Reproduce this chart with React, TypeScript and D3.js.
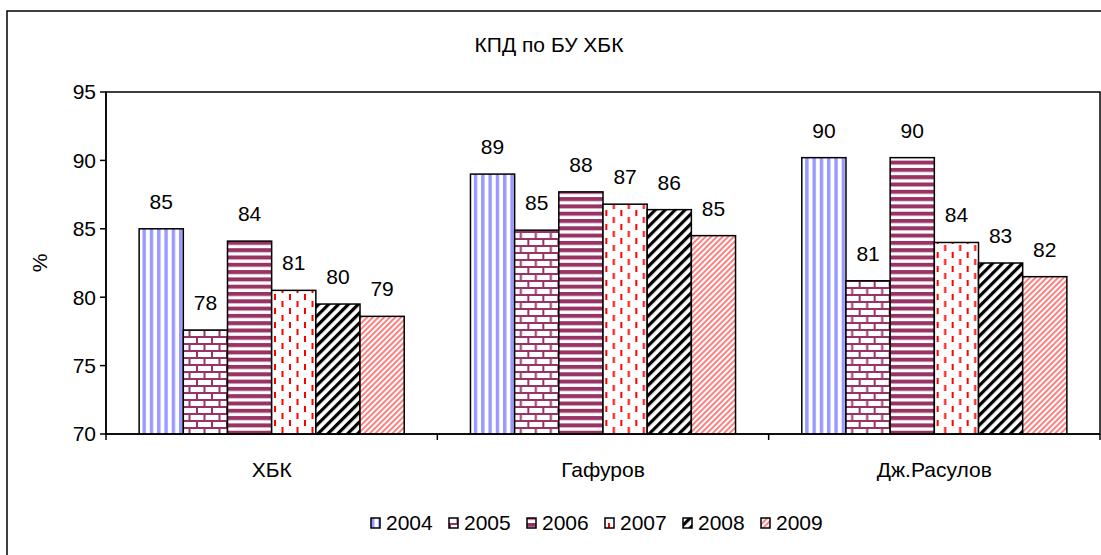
import React from 'react';
import * as d3 from 'd3';

// chart data
const categories = ['ХБК', 'Гафуров', 'Дж.Расулов'];
const years = ['2004', '2005', '2006', '2007', '2008', '2009'];
const v2004 = [85.0, 89.0, 90.2];
const v2005 = [77.6, 84.9, 81.2];
const v2006 = [84.1, 87.7, 90.2];
const v2007 = [80.5, 86.8, 84.0];
const v2008 = [79.5, 86.4, 82.5];
const v2009 = [78.6, 84.5, 81.5];
const yTicks = [70, 75, 80, 85, 90, 95];
const title = 'КПД по БУ ХБК';
const yLabel = '%';

const seriesValues = [v2004, v2005, v2006, v2007, v2008, v2009];

const W = 1101;
const H = 555;
const FONT = 'Arial, "Liberation Sans", sans-serif';
const FS = 21;
const plot = { left: 106, right: 1100, top: 92, bottom: 434 };

const Patterns = () => (
  <defs>
    {/* 2004: vertical blue stripes */}
    <pattern id="p2004" patternUnits="userSpaceOnUse" width="7.3" height="10">
      <rect width="7.3" height="10" fill="#fff" />
      <rect x="0" width="3.4" height="10" fill="#9999ff" />
    </pattern>
    {/* 2005: bricks */}
    <pattern id="p2005" patternUnits="userSpaceOnUse" width="15" height="14">
      <rect width="15" height="14" fill="#fff" />
      <rect x="0" y="0" width="15" height="2" fill="#993366" />
      <rect x="0" y="7" width="15" height="2" fill="#993366" />
      <rect x="0" y="0" width="2" height="7" fill="#993366" />
      <rect x="7.5" y="7" width="2" height="7" fill="#993366" />
    </pattern>
    {/* 2006: horizontal purple stripes */}
    <pattern id="p2006" patternUnits="userSpaceOnUse" width="10" height="7.3">
      <rect width="10" height="7.3" fill="#fff" />
      <rect y="0" width="10" height="4" fill="#993366" />
    </pattern>
    {/* 2007: red dashed vertical */}
    <pattern id="p2007" patternUnits="userSpaceOnUse" width="15" height="14">
      <rect width="15" height="14" fill="#fff" />
      <rect x="3" y="0" width="2" height="6" fill="#ff0000" />
      <rect x="10.5" y="7" width="2" height="6" fill="#ff0000" />
    </pattern>
    {/* 2008: wide black diagonal */}
    <pattern id="p2008" patternUnits="userSpaceOnUse" width="7" height="7" patternTransform="rotate(45)">
      <rect width="7" height="7" fill="#fff" />
      <rect x="0" width="3.2" height="7" fill="#000" />
    </pattern>
    {/* 2009: light red diagonal */}
    <pattern id="p2009" patternUnits="userSpaceOnUse" width="4" height="4" patternTransform="rotate(45)">
      <rect width="4" height="4" fill="#fff" />
      <rect x="0" width="2" height="4" fill="#ff8080" />
    </pattern>
  </defs>
);

export default function App() {
  const x0 = d3.scaleBand<string>().domain(categories).range([plot.left, plot.right]).paddingInner(0).paddingOuter(0);
  const x1 = d3.scaleBand<string>().domain(years).range([0, x0.bandwidth()]).paddingInner(0).paddingOuter(0.75);
  const y = d3.scaleLinear().domain([70, 95]).range([plot.bottom, plot.top]);

  const legendStep = 78;
  const legendX = 371;
  const legendY = 523;

  return (
    <svg width={W} height={H} style={{ position: 'absolute', left: 0, top: 0, display: 'block', background: '#fff' }}>
      <Patterns />
      {/* chart border */}
      <rect x={7} y={11} width={1120} height={580} fill="#fff" stroke="#000" strokeWidth={1.5} />

      <text x={549} y={52} textAnchor="middle" fontFamily={FONT} fontSize={FS}>{title}</text>

      {/* plot area */}
      <rect x={plot.left} y={plot.top} width={plot.right - plot.left} height={plot.bottom - plot.top}
        fill="#fff" stroke="#000" strokeWidth={1.5} />

      {/* bars */}
      {categories.map((c, ci) => (
        <g key={c} transform={`translate(${x0(c)},0)`}>
          {years.map((yr, si) => {
            const v = seriesValues[si][ci];
            const bx = x1(yr)!;
            return (
              <g key={yr}>
                <rect x={bx} y={y(v)} width={x1.bandwidth()} height={plot.bottom - y(v)}
                  fill={`url(#p${yr})`} stroke="#000" strokeWidth={1.5} />
                <text x={bx + x1.bandwidth() / 2} y={y(v) - 20} textAnchor="middle"
                  fontFamily={FONT} fontSize={FS}>{Math.round(v)}</text>
              </g>
            );
          })}
        </g>
      ))}

      {/* y axis */}
      <line x1={plot.left} x2={plot.left} y1={plot.top} y2={plot.bottom} stroke="#000" strokeWidth={1.5} />
      {yTicks.map(t => (
        <g key={t}>
          <line x1={plot.left - 6} x2={plot.left} y1={y(t)} y2={y(t)} stroke="#000" strokeWidth={1.5} />
          <text x={plot.left - 10} y={y(t)} dy="0.35em" textAnchor="end" fontFamily={FONT} fontSize={FS}>{t}</text>
        </g>
      ))}
      <text transform={`translate(47,${(plot.top + plot.bottom) / 2}) rotate(-90)`} textAnchor="middle"
        fontFamily={FONT} fontSize={FS}>{yLabel}</text>

      {/* x axis */}
      <line x1={plot.left} x2={plot.right} y1={plot.bottom} y2={plot.bottom} stroke="#000" strokeWidth={1.5} />
      {[...categories.map(c => x0(c)!), plot.right].map((xv, i) => (
        <line key={i} x1={xv} x2={xv} y1={plot.bottom} y2={plot.bottom + 6} stroke="#000" strokeWidth={1.5} />
      ))}
      {categories.map(c => (
        <text key={c} x={x0(c)! + x0.bandwidth() / 2} y={477} textAnchor="middle" fontFamily={FONT} fontSize={FS}>{c}</text>
      ))}

      {/* legend */}
      {years.map((yr, i) => (
        <g key={yr} transform={`translate(${legendX + i * legendStep},${legendY})`}>
          <rect x={0} y={-5} width={9} height={10} fill={`url(#p${yr})`} stroke="#000" strokeWidth={1.5} />
          <text x={15} y={0} dy="0.35em" fontFamily={FONT} fontSize={FS}>{yr}</text>
        </g>
      ))}
    </svg>
  );
}
